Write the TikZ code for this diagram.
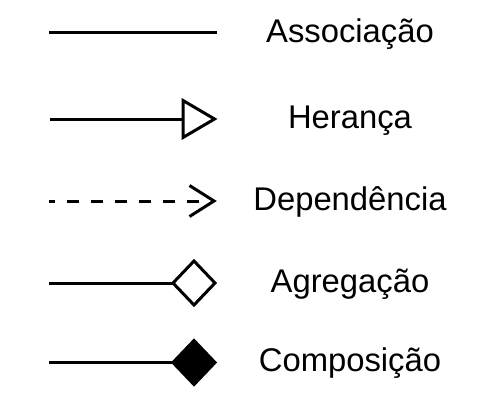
\documentclass[tikz,border=0pt]{standalone}
\usepackage{fontspec}
\setmainfont{Liberation Sans}
\begin{document}
\begin{tikzpicture}[x=1pt,y=-1pt,
  conn/.style={line width=3pt, line join=miter, black},
  dashconn/.style={conn, dash pattern=on 12pt off 12pt, dash phase=6pt},
  lbl/.style={anchor=base, font=\fontsize{32.8}{38}\selectfont, inner sep=0pt}]
\useasboundingbox (0,0) rectangle (494,412);
% Associacao
\coordinate (a1) at (49,33); \coordinate (a2) at (217,33);
\draw[conn] (a1) -- (a2);
\node[lbl] (ta) at (350,42) {Associação};
% Heranca
\coordinate (h1) at (50,119); \coordinate (h2) at (183,119);
\draw[conn] (h1) -- (h2);
\draw[conn] (h2) -- ++(0,-18.5) -- ++(31.5,18.5) -- ++(-31.5,18.5) -- cycle;
\node[lbl] (th) at (350,128) {Herança};
% Dependencia
\coordinate (d1) at (49,201); \coordinate (d2) at (214,201);
\draw[dashconn] (d1) -- (d2);
\draw[conn, line cap=butt] (189.5,185.5) -- (d2) -- (189.5,216.5);
\node[lbl] (td) at (350,210) {Dependência};
% Agregacao
\coordinate (g1) at (49,283); \coordinate (g2) at (173,283);
\draw[conn] (g1) -- (g2);
\draw[conn] (g2) -- ++(21,-22) -- ++(21,22) -- ++(-21,22) -- cycle;
\node[lbl] (tg) at (350,292) {Agregação};
% Composicao
\coordinate (c1) at (49,362.5); \coordinate (c2) at (173,362.5);
\draw[conn] (c1) -- (c2);
\draw[conn, fill=black] (c2) -- ++(21,-22) -- ++(21,22) -- ++(-21,22) -- cycle;
\node[lbl] (tc) at (350,371.5) {Composição};
\end{tikzpicture}
\end{document}
